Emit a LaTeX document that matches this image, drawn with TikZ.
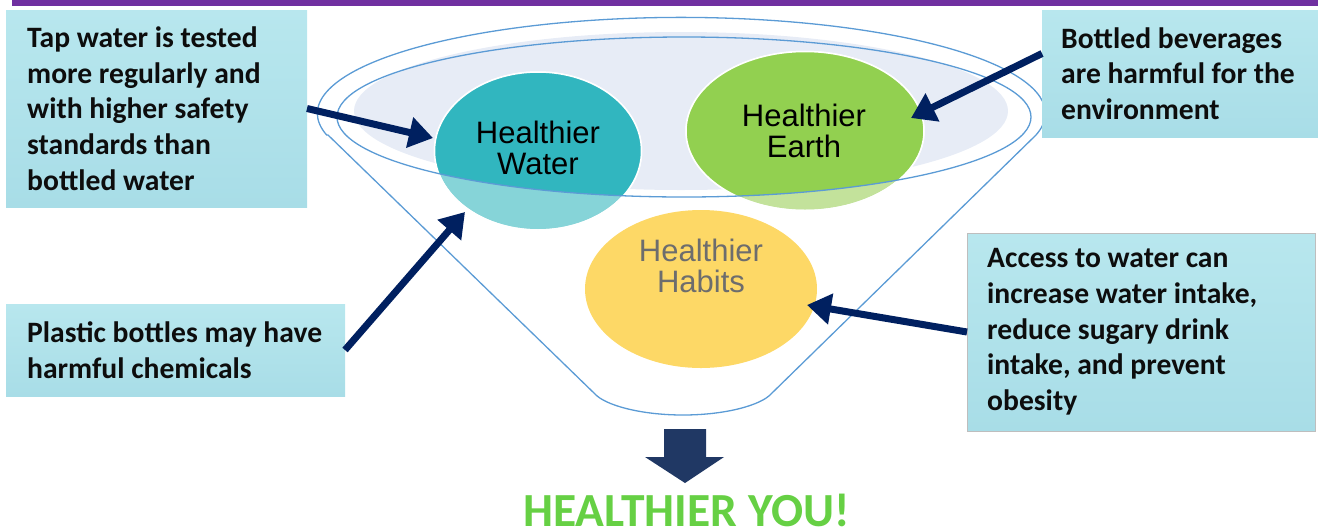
\documentclass[tikz,border=0pt]{standalone}
\usepackage{fontspec}
\setmainfont{Carlito}
\newfontfamily\arialf{Liberation Sans}
\usetikzlibrary{arrows.meta,shapes.geometric,calc}
\definecolor{barpurple}{RGB}{112,48,160}
\definecolor{funnelblue}{RGB}{91,155,213}
\definecolor{lavender}{RGB}{231,236,246}
\definecolor{wdark}{RGB}{49,182,191}
\definecolor{wlight}{RGB}{134,212,216}
\definecolor{edark}{RGB}{146,208,80}
\definecolor{elight}{RGB}{195,226,155}
\definecolor{habity}{RGB}{253,216,102}
\definecolor{habtext}{RGB}{109,109,109}
\definecolor{arrnavy}{RGB}{0,32,96}
\definecolor{downnavy}{RGB}{32,56,100}
\definecolor{yougreen}{RGB}{102,208,68}
\definecolor{boxtop}{RGB}{184,231,238}
\definecolor{boxbot}{RGB}{168,221,231}
\definecolor{boxline}{RGB}{190,190,190}
\begin{document}
\begin{tikzpicture}[x=1pt,y=-1pt,
  funnel/.style={draw=funnelblue,line width=1.3pt},
  circ/.style={ellipse,inner sep=0pt,outer sep=0pt,draw=white,line width=1.5pt},
  ctext/.style={align=center,inner sep=0pt,font=\arialf\fontsize{31}{31.5}\selectfont},
  infobox/.style={rectangle,inner sep=0pt,outer sep=0pt,anchor=north west,top color=boxtop,bottom color=boxbot},
  boxtext/.style={anchor=west,align=left,inner sep=0pt,text={rgb,255:red,13;green,13;blue,13},font=\bfseries\fontsize{29.6}{35.7}\selectfont},
  arr/.style={draw=arrnavy,line width=7pt,-{Triangle[length=24pt,width=30pt]}}]
\useasboundingbox (0,0) rectangle (1318,531);
% top bar
\fill[barpurple] (12,0) rectangle (1318,6);
% funnel
\fill[lavender] (681,111) ellipse[x radius=327,y radius=79];
\draw[funnel] (328,135) -- (595,394) .. controls (605,405) and (640,415) .. (683,415)
  .. controls (726,415) and (761,405) .. (771,394) -- (1036,135)
  arc[start angle=13,end angle=-193,x radius=364,y radius=96] -- cycle;
% circles
\node[circ,fill=wlight,minimum width=207pt,minimum height=158pt] (water) at (538,151) {};
\node[circ,fill=elight,minimum width=238pt,minimum height=159pt] (earth) at (805,131) {};
\begin{scope}
  \clip (684,117) ellipse[x radius=347,y radius=80];
  \fill[wdark] (water.center) ellipse[x radius=103.5,y radius=79];
  \fill[edark] (earth.center) ellipse[x radius=119,y radius=79.5];
\end{scope}
\draw[white,line width=1.5pt] (water.center) ellipse[x radius=103.5,y radius=79];
\draw[white,line width=1.5pt] (earth.center) ellipse[x radius=119,y radius=79.5];
\draw[funnel] (684,117) ellipse[x radius=347,y radius=80];
\node[ctext] (wtext) at (538,148) {Healthier\\Water};
\node[ctext] (etext) at (804,131) {Healthier\\Earth};
\node[circ,draw=none,fill=habity,minimum width=232pt,minimum height=158pt] (habits) at (701,289) {};
\node[ctext,text=habtext] (htext) at (701,266) {Healthier\\Habits};
% info boxes
\node[infobox,minimum width=301pt,minimum height=197pt] (b1) at (6,10) {};
\node[boxtext] (t1) at ([xshift=21pt]b1.west) {Tap water is tested\\more regularly and\\with higher safety\\standards than\\bottled water};
\node[infobox,minimum width=276pt,minimum height=127pt] (b2) at (1042,10) {};
\node[boxtext] (t2) at ([xshift=19pt]b2.west) {Bottled beverages\\are harmful for the\\environment};
\node[infobox,draw=boxline,line width=1pt,minimum width=348pt,minimum height=198pt] (b3) at (967,233) {};
\node[boxtext] (t3) at ([xshift=20pt]b3.west) {Access to water can\\increase water intake,\\reduce sugary drink\\intake, and prevent\\obesity};
\node[infobox,minimum width=339pt,minimum height=92pt] (b4) at (6,304) {};
\node[boxtext] (t4) at ([xshift=21pt]b4.west) {Plastic bottles may have\\harmful chemicals};
% arrows
\draw[arr] (b1.east) -- ($(water.center)+(-105,-13)$);
\draw[arr] (b4.east) -- ($(water.center)+(-73,61)$);
\draw[arr] ([yshift=20pt]b2.west) -- ($(earth.center)+(106,-13)$);
\draw[arr] (b3.west) -- ($(habits.center)+(106,16)$);
% result
\fill[downnavy] (664,429) -- (706,429) -- (706,457) -- (724,457) -- (685,483) -- (645,457) -- (664,457) -- cycle;
\node[anchor=base,inner sep=0pt,text=yougreen,font=\bfseries\fontsize{47.5}{50}\selectfont] (you) at (686.5,526) {HEALTHIER YOU!};
\end{tikzpicture}
\end{document}
